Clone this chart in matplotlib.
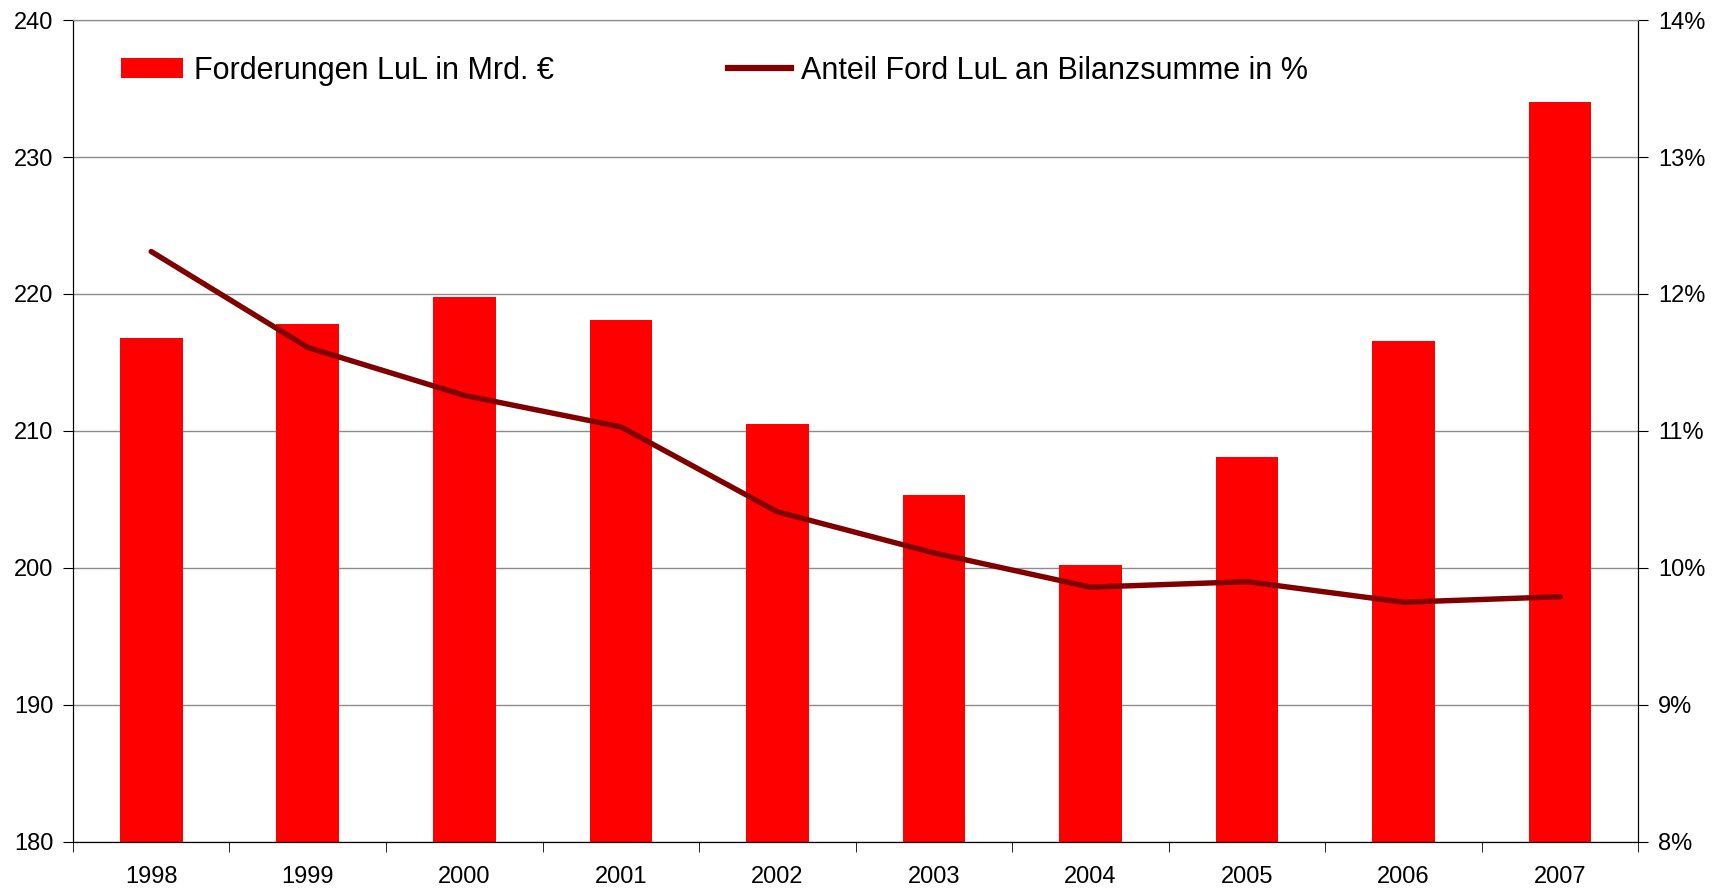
import numpy as np
import matplotlib.pyplot as plt
from matplotlib.patches import Patch
from matplotlib.lines import Line2D
from matplotlib.ticker import FuncFormatter

plt.rcParams['font.family'] = ['Liberation Sans', 'DejaVu Sans']

# data
years = ['1998', '1999', '2000', '2001', '2002', '2003', '2004', '2005', '2006', '2007']
forderungen = [216.8, 217.8, 219.8, 218.1, 210.5, 205.3, 200.2, 208.1, 216.6, 234.0]
anteil_pct = [12.31, 11.61, 11.26, 11.03, 10.41, 10.11, 9.86, 9.90, 9.75, 9.79]

bar_label = 'Forderungen LuL in Mrd. €'
line_label = 'Anteil Ford LuL an Bilanzsumme in %'

fig = plt.figure(figsize=(17.12, 8.90), dpi=100)
ax = fig.add_axes([0.0426, 0.054, 0.9144, 0.9235])
ax2 = ax.twinx()

x = np.arange(len(years))
ax.bar(x, forderungen, width=0.4, color='#FF0000', zorder=2)
ax.set_ylim(180, 240)
ax.set_xlim(-0.5, len(years) - 0.5)
ax.set_yticks(np.arange(180, 241, 10))
ax.yaxis.grid(True, color='#8c8c8c', linewidth=1.0, zorder=0)
ax.set_axisbelow(True)

ax2.plot(x, anteil_pct, color='#800000', linewidth=3.9,
         solid_capstyle='round', solid_joinstyle='round', zorder=3)
ax2.set_ylim(8, 14)
ax2.set_yticks(np.arange(8, 15, 1))
ax2.yaxis.set_major_formatter(FuncFormatter(lambda v, p: f'{v:.0f}%'))

# category ticks between bars, labels centered
ax.set_xticks(x)
ax.set_xticklabels(years)
ax.tick_params(axis='x', which='major', length=0, pad=17, labelsize=17)
ax.set_xticks(np.arange(-0.5, len(years) + 0.5, 1), minor=True)
ax.tick_params(axis='x', which='minor', length=7, direction='out', color='black')

ax.tick_params(axis='y', length=7, direction='out', labelsize=17, pad=7)
ax2.tick_params(axis='y', length=7, direction='out', labelsize=17, pad=7)

for a in (ax, ax2):
    a.spines['top'].set_color('#8c8c8c')
    a.spines['left'].set_color('black')
    a.spines['right'].set_color('black')
    a.spines['bottom'].set_color('black')

handles = [Patch(facecolor='#FF0000', edgecolor='none', label=bar_label),
           Line2D([0], [0], color='#800000', linewidth=4.5, label=line_label)]
ax.legend(handles=handles, ncol=2, loc='upper left', bbox_to_anchor=(0.013, 0.99),
          frameon=False, fontsize=22, handlelength=2.05, handleheight=0.65,
          handletextpad=0.35, columnspacing=5.7)

fig.savefig('out.png', dpi=100, facecolor='white')
